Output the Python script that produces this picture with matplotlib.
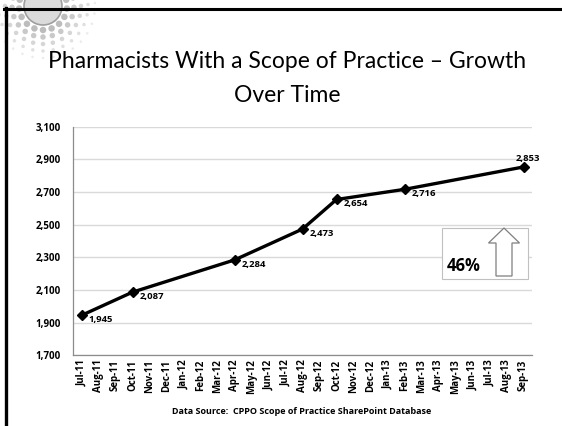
import numpy as np
import matplotlib
matplotlib.use("Agg")
import matplotlib.pyplot as plt
import matplotlib.patches as mpatches
import matplotlib.transforms as mtransforms

# Months on the category axis
months = ["Jul-11", "Aug-11", "Sep-11", "Oct-11", "Nov-11", "Dec-11", "Jan-12",
          "Feb-12", "Mar-12", "Apr-12", "May-12", "Jun-12", "Jul-12", "Aug-12",
          "Sep-12", "Oct-12", "Nov-12", "Dec-12", "Jan-13", "Feb-13", "Mar-13",
          "Apr-13", "May-13", "Jun-13", "Jul-13", "Aug-13", "Sep-13"]

# Observed counts (only some months have a value)
point_months = ["Jul-11", "Oct-11", "Apr-12", "Aug-12", "Oct-12", "Feb-13", "Sep-13"]
point_values = [1945, 2087, 2284, 2473, 2654, 2716, 2853]

y_ticks = [1700, 1900, 2100, 2300, 2500, 2700, 2900, 3100]

W, H = 562, 426
SMALL = ["Open Sans", "DejaVu Sans"]
plt.rcParams["font.family"] = ["Lato", "DejaVu Sans"]

fig = plt.figure(figsize=(W / 100, H / 100), dpi=100)
# pixel coords with origin top-left
px = mtransforms.Affine2D().scale(1 / W, -1 / H).translate(0, 1) + fig.transFigure

# slide border
fig.add_artist(plt.Line2D([5.5, 5.5], [8, H], transform=px, color="black", lw=2.4))
fig.add_artist(plt.Line2D([4, W], [9, 9], transform=px, color="black", lw=2.2))

# decorative logo (grey bubbles top-left)
for r, size, shade, n in [(24, 6.5, 0.74, 11), (31, 5.5, 0.79, 13), (38, 4.5, 0.84, 15),
                          (45, 3.5, 0.88, 17), (52, 2.5, 0.92, 19)]:
    for ang in np.linspace(-15, 195, n):
        a = np.deg2rad(ang)
        fig.add_artist(mpatches.Circle((43 + r * np.cos(a), 6 + r * np.sin(a)), size / 2,
                                       transform=px, color=str(shade), lw=0))
fig.add_artist(mpatches.Circle((43, 6), 19, transform=px, facecolor="0.86",
                               edgecolor="0.62", lw=1.2))

fig.text(287 / W, 1 - 62 / H, "Pharmacists With a Scope of Practice \u2013 Growth",
         ha="center", va="center", fontsize=16.5, color="black")
fig.text(287 / W, 1 - 96 / H, "Over Time", ha="center", va="center",
         fontsize=16.5, color="black")

ax = fig.add_axes([73 / W, 1 - 355.4 / H, (532 - 73) / W, (355.4 - 126.6) / H])
xs = [months.index(m) for m in point_months]
ax.plot(xs, point_values, color="black", lw=2.4, marker="D", markersize=5, zorder=3)

offsets = {"Sep-13": (-6, 6)}
for m, x, v in zip(point_months, xs, point_values):
    dx, dy = offsets.get(m, (5, -3))
    ax.annotate(f"{v:,}", (x, v), xytext=(dx, dy), textcoords="offset points",
                fontsize=6.8, fontweight="bold", family=SMALL, va="center", ha="left")

ax.set_xlim(-0.5, len(months) - 0.5)
ax.set_ylim(y_ticks[0], y_ticks[-1])
ax.set_yticks(y_ticks)
ax.set_yticklabels([f"{t:,}" for t in y_ticks], fontsize=7, fontweight="bold", family=SMALL)
ax.set_xticks(range(len(months)))
ax.set_xticklabels(months, rotation=90, fontsize=7, fontweight="bold", family=SMALL)
ax.tick_params(axis="both", length=0)
ax.tick_params(axis="x", pad=3)
ax.tick_params(axis="y", pad=9)
ax.grid(axis="y", color="#d9d9d9", lw=1)
ax.set_axisbelow(True)
for s in ["top", "right"]:
    ax.spines[s].set_visible(False)
for s in ["left", "bottom"]:
    ax.spines[s].set_color("#8c8c8c")
    ax.spines[s].set_linewidth(0.9)

fig.text(302 / W, 1 - 411 / H, "Data Source:  CPPO Scope of Practice SharePoint Database",
         ha="center", va="center", fontsize=6.5, fontweight="bold", family=SMALL)

# 46% growth callout
fig.add_artist(mpatches.Rectangle((441.7, 228.3), 86.6, 50.7, transform=px,
                                  facecolor="white", edgecolor="#c0c0c0", lw=0.8, zorder=5))
fig.add_artist(mpatches.FancyArrow(504, 276, 0, -48, width=16, head_width=31,
                                   head_length=15, length_includes_head=True,
                                   transform=px, facecolor="white", edgecolor="#7f7f7f",
                                   lw=0.9, zorder=6))
fig.text(447 / W, 1 - 266 / H, "46%", ha="left", va="center", fontsize=12,
         fontweight="bold", family=SMALL, zorder=7)

fig.savefig("out.png", dpi=100)
